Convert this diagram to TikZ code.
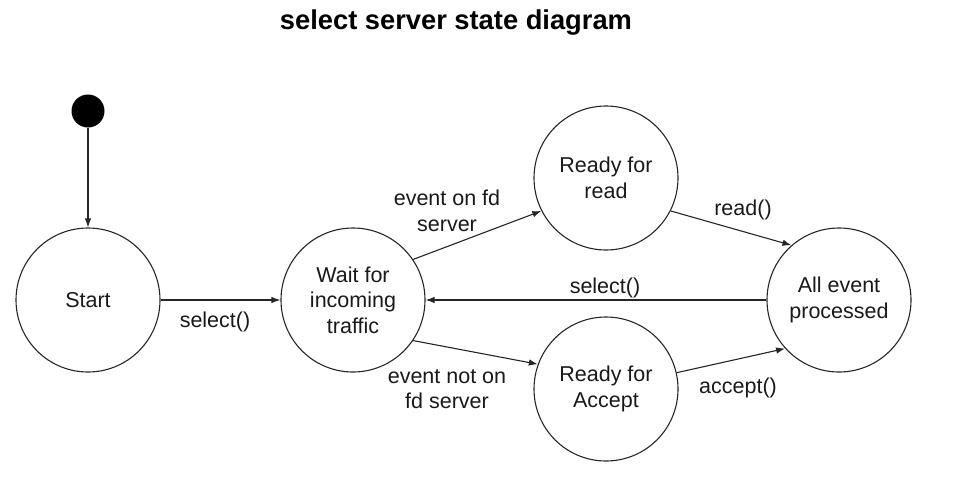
\documentclass[tikz,border=0pt]{standalone}
\usepackage{fontspec}
\setmainfont{Liberation Sans}
\usetikzlibrary{arrows.meta}
\begin{document}
\begin{tikzpicture}[x=1pt,y=-1pt,
  state/.style={circle,draw=black!85,line width=1.1pt,minimum size=144pt,inner sep=0pt,align=center,
    font=\fontsize{21.5}{25.5}\selectfont,text=black!90},
  lbl/.style={align=center,font=\fontsize{21.5}{25.5}\selectfont,text=black!90,inner sep=0pt},
  conn/.style={draw=black!85,line width=1.1pt,-{Latex[length=9pt,width=6.5pt]}}]
\useasboundingbox (0,0) rectangle (958,480);
\node[font=\bfseries\fontsize{27.3}{30}\selectfont] (title) at (456,22) {select server state diagram};
\node[circle,fill=black,minimum size=33pt,inner sep=0pt] (init) at (88,111) {};
\node[state] (start) at (88,300) {Start};
\node[state] (wait) at (353,300) {Wait for\\incoming\\traffic};
\node[state] (read) at (606,178) {Ready for\\read};
\node[state] (acc) at (606,389) {Ready for\\Accept};
\node[state] (all) at (839,300) {All event\\processed};
\draw[conn] (init) -- (start);
\draw[conn] (start) -- (wait);
\draw[conn] (wait.34) -- (read.207);
\draw[conn] (read.333) -- (all.131);
\draw[conn] (all) -- (wait);
\draw[conn] (wait.326) -- (acc.160);
\draw[conn] (acc.13) -- (all.222);
\node[lbl] (l1) at (215,322) {select()};
\node[lbl] (l2) at (447,211) {event on fd\\server};
\node[lbl] (l3) at (743,210) {read()};
\node[lbl] (l4) at (605,288) {select()};
\node[lbl] (l5) at (447,389) {event not on\\fd server};
\node[lbl] (l6) at (738,388) {accept()};
\end{tikzpicture}
\end{document}
